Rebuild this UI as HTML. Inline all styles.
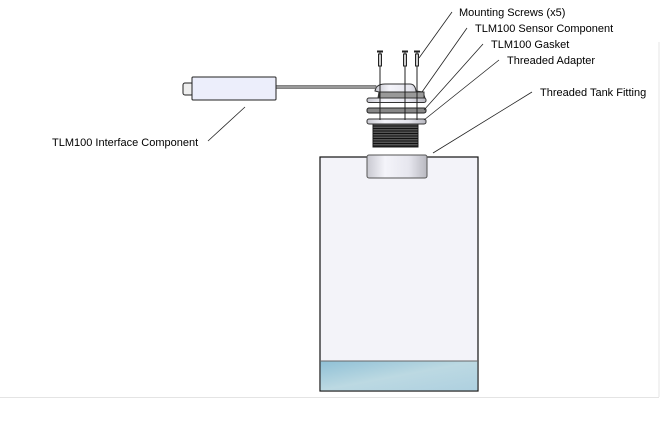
<!DOCTYPE html>
<html><head><style>
html,body{margin:0;padding:0;background:#fff;width:672px;height:422px;overflow:hidden}
svg{display:block}
text{font-family:"Liberation Sans",Arial,sans-serif;font-size:11px;fill:#000}
</style></head><body>
<svg width="672" height="422" viewBox="0 0 672 422">
<defs>
<linearGradient id="liq" x1="0" y1="0" x2="1" y2="1">
<stop offset="0" stop-color="#8fc0d6"/><stop offset="0.5" stop-color="#bcd9e2"/><stop offset="1" stop-color="#aed0e0"/>
</linearGradient>
<linearGradient id="cyl" x1="0" y1="0" x2="1" y2="0">
<stop offset="0" stop-color="#c8c8d0"/><stop offset="0.3" stop-color="#f4f4fa"/><stop offset="0.7" stop-color="#e6e6ee"/><stop offset="1" stop-color="#b8b8c0"/>
</linearGradient>
</defs>
<line x1="659" y1="42" x2="659" y2="397" stroke="#e4e4e4" stroke-width="1"/>
<line x1="0" y1="397.5" x2="659" y2="397.5" stroke="#e4e4e4" stroke-width="1"/>
<!-- tank -->
<rect x="320" y="157" width="158" height="234" fill="#f3f3f9" stroke="#111" stroke-width="1.2"/>
<rect x="320.6" y="361" width="156.8" height="29.4" fill="url(#liq)"/>
<line x1="320" y1="361" x2="478" y2="361" stroke="#666" stroke-width="1"/>
<!-- fitting -->
<rect x="367" y="155" width="60" height="23" rx="2" fill="url(#cyl)" stroke="#555"/>
<!-- threads -->
<g stroke="#222" stroke-width="1">
<rect x="373" y="124" width="45" height="23" fill="#555"/>
<path d="M373 126H418M373 128.5H418M373 131H418M373 133.5H418M373 136H418M373 138.5H418M373 141H418M373 143.5H418M373 146H418" stroke="#111"/>
</g>
<!-- plates -->
<rect x="367" y="119" width="59" height="5" rx="2" fill="url(#cyl)" stroke="#333"/>
<rect x="367" y="108" width="59" height="5" rx="2" fill="#888" stroke="#222"/>
<rect x="367" y="98" width="59" height="4.5" rx="2" fill="url(#cyl)" stroke="#333"/>
<!-- sensor -->
<path d="M378 98 L379 92 L375 91 Q376 84 385 84 L410 84 Q415 84 416 91 L423 92 L425 98 Z" fill="url(#cyl)" stroke="#333"/>
<rect x="379" y="92" width="45" height="6" fill="#999" stroke="#333"/>
<!-- cable -->
<rect x="276" y="85.5" width="100" height="3" fill="#999" stroke="#555" stroke-width="0.6"/>
<!-- interface -->
<rect x="183" y="83" width="10" height="12" rx="2" fill="#eee" stroke="#222"/>
<rect x="192" y="77" width="84" height="23" rx="1" fill="#eceefb" stroke="#222"/>
<!-- screws -->
<g stroke="#222" stroke-width="1">
<line x1="380" y1="52" x2="380" y2="120"/><line x1="405" y1="52" x2="405" y2="120"/><line x1="417" y1="52" x2="417" y2="120"/>
<rect x="378.5" y="54" width="3" height="12" fill="#ccc"/><rect x="403.5" y="54" width="3" height="12" fill="#ccc"/><rect x="415.5" y="54" width="3" height="12" fill="#ccc"/>
<line x1="377" y1="51.5" x2="383" y2="51.5" stroke-width="2"/><line x1="402" y1="51.5" x2="408" y2="51.5" stroke-width="2"/><line x1="414" y1="51.5" x2="420" y2="51.5" stroke-width="2"/>
</g>
<!-- leaders -->
<g stroke="#222" stroke-width="0.8">
<line x1="452" y1="12" x2="419" y2="58"/>
<line x1="467" y1="28" x2="422" y2="92"/>
<line x1="483" y1="44" x2="424" y2="110"/>
<line x1="499" y1="60" x2="424" y2="120"/>
<line x1="532" y1="92" x2="433" y2="153"/>
<line x1="208" y1="141" x2="245" y2="107"/>
</g>
<text x="459" y="16">Mounting Screws (x5)</text>
<text x="475" y="32">TLM100 Sensor Component</text>
<text x="491" y="48">TLM100 Gasket</text>
<text x="507" y="64">Threaded Adapter</text>
<text x="540" y="96">Threaded Tank Fitting</text>
<text x="52" y="146">TLM100 Interface Component</text>
</svg>
</body></html>
